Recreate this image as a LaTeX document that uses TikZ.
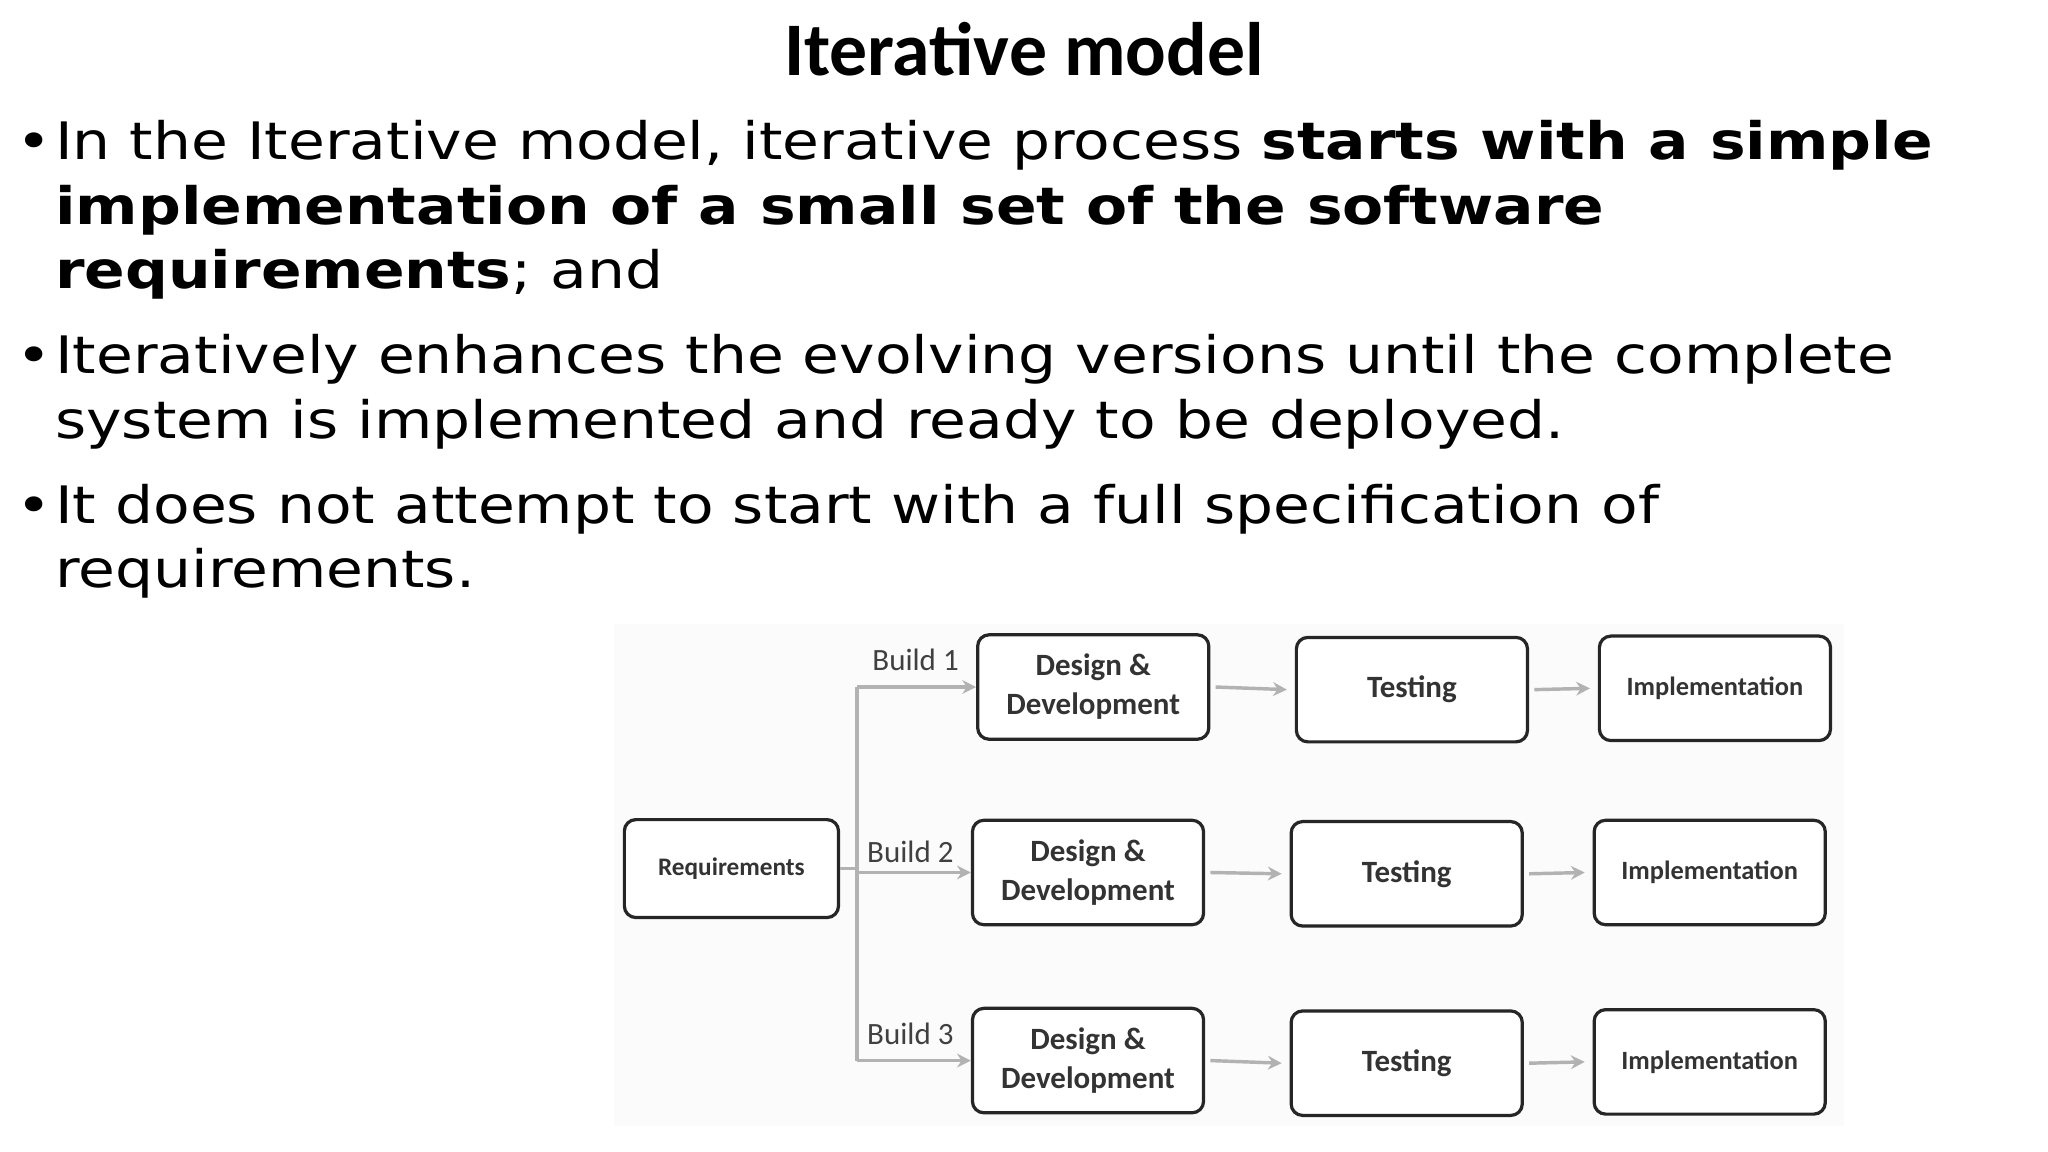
\documentclass[tikz,border=0pt]{standalone}
\usepackage{fontspec}
\setmainfont[FakeStretch=1.16]{DejaVu Sans}
\newfontfamily\carlitofont{Carlito}
\usetikzlibrary{arrows.meta}
\tikzset{
  line/.style={anchor=base west, inner sep=0pt, font=\fontsize{22.5}{28}\selectfont},
  bul/.style={anchor=base west, inner sep=0pt, font=\fontsize{22.5}{28}\selectfont},
  box/.style={draw=black!85, line width=1.4pt, rounded corners=5pt, fill=white, minimum width=3.54cm, minimum height=1.6cm, align=center, font=\carlitofont\bfseries\fontsize{13.5}{17}\selectfont, text=black!80},
  conn/.style={draw=black!30, line width=1.5pt},
  arr/.style={conn, -{Stealth[length=6pt,width=6pt]}},
  bld/.style={font=\carlitofont\fontsize{13.5}{16}\selectfont, text=black!75, inner sep=1pt}
}
\begin{document}
\begin{tikzpicture}[x=0.02cm,y=-0.02cm]
\useasboundingbox (0,0) rectangle (1568,882);
\node[font=\carlitofont\bfseries\fontsize{33}{38}\selectfont] (title) at (784,38) {Iterative model};
\node[bul] (b1) at (12,122) {•};
\node[line] (l1) at (42,122) {In the Iterative model, iterative process \textbf{starts with a simple}};
\node[line] (l2) at (42,172) {\textbf{implementation of a small set of the software}};
\node[line] (l3) at (42,221) {\textbf{requirements}; and};
\node[bul] (b2) at (12,286) {•};
\node[line] (l4) at (42,286) {Iteratively enhances the evolving versions until the complete};
\node[line] (l5) at (42,336) {system is implemented and ready to be deployed.};
\node[bul] (b3) at (12,401) {•};
\node[line] (l6) at (42,401) {It does not attempt to start with a full specification of};
\node[line] (l7) at (42,450) {requirements.};

\fill[black!1.5] (470,478) rectangle (1412,862);
\node[box, minimum width=3.28cm, minimum height=1.5cm, font=\carlitofont\bfseries\fontsize{11}{13}\selectfont] (req) at (560,665) {Requirements};
\node[box] (d1) at (837,526) {Design \&\\Development};
\node[box] (t1) at (1081,528) {Testing};
\node[box, font=\carlitofont\bfseries\fontsize{11.5}{13}\selectfont] (i1) at (1313,527) {Implementation};
\node[box] (d2) at (833,668) {Design \&\\Development};
\node[box] (t2) at (1077,669) {Testing};
\node[box, font=\carlitofont\bfseries\fontsize{11.5}{13}\selectfont] (i2) at (1309,668) {Implementation};
\node[box] (d3) at (833,812) {Design \&\\Development};
\node[box] (t3) at (1077,814) {Testing};
\node[box, font=\carlitofont\bfseries\fontsize{11.5}{13}\selectfont] (i3) at (1309,813) {Implementation};

\coordinate (top) at (656,526);
\coordinate (mid) at (656,668);
\coordinate (bot) at (656,812);
\draw[conn] (top) -- (bot);
\draw[conn] (req.east) -- (req.east -| mid);
\draw[arr] (top) -- (d1.west);
\draw[arr] (mid) -- (d2.west);
\draw[arr] (bot) -- (d3.west);
\node[bld, anchor=south] (bl1) at (701,516) {Build 1};
\node[bld, anchor=south] (bl2) at (697,663) {Build 2};
\node[bld, anchor=south] (bl3) at (697,802) {Build 3};
\foreach \a/\b in {d1/t1,t1/i1,d2/t2,t2/i2,d3/t3,t3/i3}
  \draw[arr] (\a.east) ++(4,0) -- ([xshift=-0.12cm]\b.west);
\end{tikzpicture}
\end{document}
